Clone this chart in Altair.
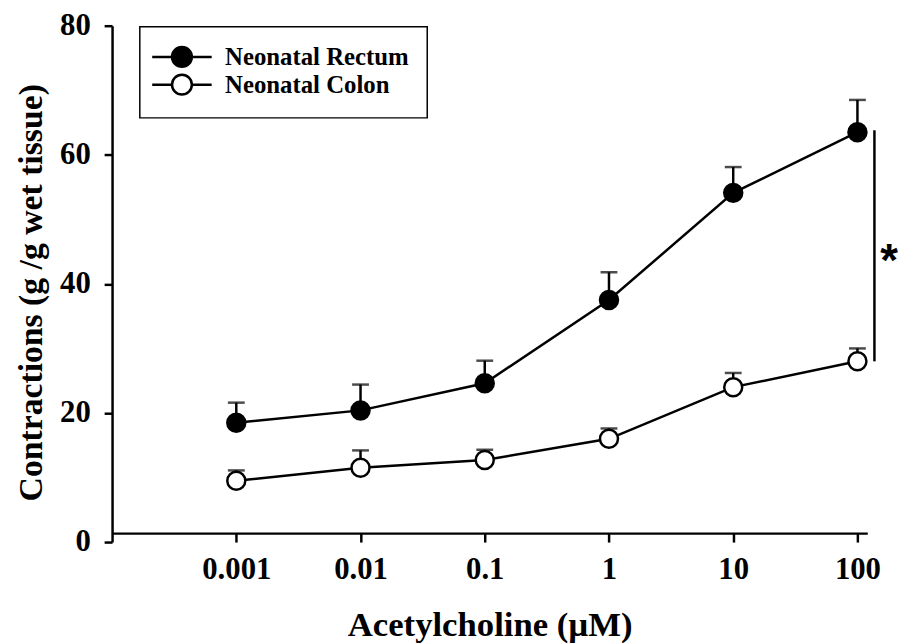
import altair as alt
import pandas as pd

# ---- data ----
doses = [0.001, 0.01, 0.1, 1, 10, 100]
rectum_mean = [18.5, 20.4, 24.6, 37.5, 54.1, 63.5]
rectum_sem = [3.1, 4.0, 3.5, 4.3, 4.0, 5.0]
colon_mean = [9.5, 11.5, 12.7, 16.0, 24.0, 28.0]
colon_sem = [1.6, 2.7, 1.6, 1.6, 2.2, 2.0]
series_names = ["Neonatal Rectum", "Neonatal Colon"]
x_ticks = [0.001, 0.01, 0.1, 1, 10, 100]
y_ticks = [0, 20, 40, 60, 80]

# significance annotation (data coordinates)
sig_x = [137]
sig_low = [28.0]
sig_high = [63.8]
star_x = [180]
star_y = [41.2]
star_text = ["*"]

rows = []
for name, means, sems in [(series_names[0], rectum_mean, rectum_sem),
                          (series_names[1], colon_mean, colon_sem)]:
    for d, m, s in zip(doses, means, sems):
        rows.append({"series": name, "dose": d, "mean": m, "upper": m + s})
df = pd.DataFrame(rows)

sig_df = pd.DataFrame({"x": sig_x, "lo": sig_low, "hi": sig_high})
star_df = pd.DataFrame({"x": star_x, "y": star_y, "t": star_text})

FONT = "Liberation Serif"
LW = 2.5

xscale = alt.Scale(type="log", domain=[0.0001, 120])
yscale = alt.Scale(domain=[0, 80])

x_axis = alt.Axis(values=x_ticks, format=".3~f", title="Acetylcholine (µM)",
                  offset=-9, tickSize=9, labelPadding=13, titlePadding=23,
                  titleFontSize=35,
                  labelFlush=False, labelOverlap=False)
y_axis = alt.Axis(values=y_ticks, title="Contractions (g /g wet tissue)",
                  tickSize=8, labelPadding=14, titlePadding=11,
                  titleFontSize=34, titleY=269)

X = alt.X("dose:Q", scale=xscale, axis=x_axis)
Y = alt.Y("mean:Q", scale=yscale, axis=y_axis)

base = alt.Chart(df)

err = base.mark_rule(color="black", strokeWidth=LW).encode(
    x=X, y=Y, y2="upper:Q", detail="series:N")
caps = base.mark_tick(color="black", orient="horizontal", size=17, thickness=LW).encode(
    x=alt.X("dose:Q", scale=xscale), y=alt.Y("upper:Q", scale=yscale))
lines = base.mark_line(color="black", strokeWidth=LW).encode(
    x=X, y=Y, detail="series:N")

legend_symbol = "M-3,0H-1M1,0H3M-1,0A1,1,0,1,1,1,0A1,1,0,1,1,-1,0Z"
points = base.mark_circle(size=330, stroke="black", strokeWidth=LW, opacity=1).encode(
    x=X, y=Y,
    fill=alt.Fill("series:N",
                  scale=alt.Scale(domain=series_names, range=["black", "white"]),
                  legend=alt.Legend(title=None, orient="none", legendX=28, legendY=1,
                                    symbolType=legend_symbol, symbolSize=400,
                                    symbolStrokeColor="black", symbolStrokeWidth=LW,
                                    symbolOffset=12, labelOffset=31, labelLimit=500,
                                    labelFont=FONT, labelFontSize=25,
                                    labelFontWeight="bold", labelColor="black",
                                    padding=18, rowPadding=-7,
                                    strokeColor="black")))

sig = alt.Chart(sig_df).mark_rule(color="black", strokeWidth=LW).encode(
    x=alt.X("x:Q", scale=xscale), y=alt.Y("lo:Q", scale=yscale), y2="hi:Q")
star = alt.Chart(star_df).mark_text(font="Liberation Sans", fontSize=46, fontWeight="bold",
                                    baseline="alphabetic", align="center", color="black").encode(
    x=alt.X("x:Q", scale=xscale), y=alt.Y("y:Q", scale=yscale), text="t:N")

chart = alt.layer(err, caps, lines, points, sig, star).properties(
    width=762, height=521,
    autosize=alt.AutoSizeParams(type="none"),
    padding={"left": 105, "top": 15, "right": 31, "bottom": 100},
).configure_view(stroke=None).configure_axis(
    grid=False, domainColor="black", domainWidth=LW, tickColor="black", tickWidth=LW,
    labelFont=FONT, labelFontSize=31, labelFontWeight="bold", labelColor="black",
    titleFont=FONT, titleFontWeight="bold", titleColor="black",
).configure_legend(strokeWidth=1.5)

chart.save("out.html", embed_options={"renderer": "svg", "actions": False})
